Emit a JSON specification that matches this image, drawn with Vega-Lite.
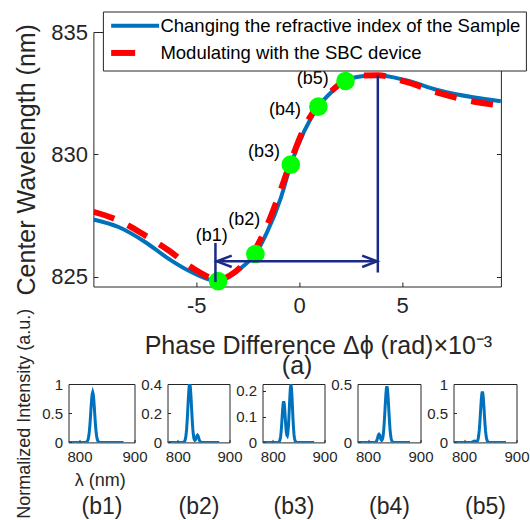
{
  "$schema": "https://vega.github.io/schema/vega-lite/v6.json",
  "padding": {"left": 13.5, "top": 10, "right": 0, "bottom": 0},
  "columns": 1,
  "align": "none",
  "bounds": "full",
  "spacing": {"row": -73, "column": 0},
  "resolve": {"scale": {"color": "independent"}},
  "config": {
    "font": "Liberation Sans",
    "view": {"stroke": "#262626", "strokeWidth": 1},
    "axis": {"domain": false, "grid": false, "labelColor": "#262626", "titleColor": "#262626", "tickColor": "#262626", "titleFontWeight": "normal", "labelFont": "Liberation Sans", "titleFont": "Liberation Sans", "labelOverlap": false, "labelFlush": false, "labelBound": false}
  },
  "datasets": {
    "curves": [
      {"x": -10.0, "y": 827.34, "s": "Changing the refractive index of the Sample"},
      {"x": -8.78, "y": 827.03, "s": "Changing the refractive index of the Sample"},
      {"x": -7.47, "y": 826.41, "s": "Changing the refractive index of the Sample"},
      {"x": -6.32, "y": 825.72, "s": "Changing the refractive index of the Sample"},
      {"x": -5.34, "y": 825.23, "s": "Changing the refractive index of the Sample"},
      {"x": -4.52, "y": 824.92, "s": "Changing the refractive index of the Sample"},
      {"x": -4.02, "y": 824.82, "s": "Changing the refractive index of the Sample"},
      {"x": -3.37, "y": 825.03, "s": "Changing the refractive index of the Sample"},
      {"x": -2.71, "y": 825.44, "s": "Changing the refractive index of the Sample"},
      {"x": -2.13, "y": 825.93, "s": "Changing the refractive index of the Sample"},
      {"x": -1.56, "y": 826.82, "s": "Changing the refractive index of the Sample"},
      {"x": -0.90, "y": 828.20, "s": "Changing the refractive index of the Sample"},
      {"x": -0.41, "y": 829.58, "s": "Changing the refractive index of the Sample"},
      {"x": 0.25, "y": 830.96, "s": "Changing the refractive index of the Sample"},
      {"x": 0.93, "y": 831.95, "s": "Changing the refractive index of the Sample"},
      {"x": 1.56, "y": 832.54, "s": "Changing the refractive index of the Sample"},
      {"x": 2.25, "y": 833.00, "s": "Changing the refractive index of the Sample"},
      {"x": 3.04, "y": 833.19, "s": "Changing the refractive index of the Sample"},
      {"x": 3.82, "y": 833.23, "s": "Changing the refractive index of the Sample"},
      {"x": 5.17, "y": 833.03, "s": "Changing the refractive index of the Sample"},
      {"x": 6.81, "y": 832.61, "s": "Changing the refractive index of the Sample"},
      {"x": 8.45, "y": 832.33, "s": "Changing the refractive index of the Sample"},
      {"x": 9.80, "y": 832.17, "s": "Changing the refractive index of the Sample"},
      {"x": -10.0, "y": 827.65, "s": "Modulating with the SBC device"},
      {"x": -8.78, "y": 827.30, "s": "Modulating with the SBC device"},
      {"x": -7.47, "y": 826.68, "s": "Modulating with the SBC device"},
      {"x": -6.32, "y": 826.06, "s": "Modulating with the SBC device"},
      {"x": -5.34, "y": 825.44, "s": "Modulating with the SBC device"},
      {"x": -4.52, "y": 825.03, "s": "Modulating with the SBC device"},
      {"x": -4.02, "y": 824.85, "s": "Modulating with the SBC device"},
      {"x": -3.37, "y": 825.05, "s": "Modulating with the SBC device"},
      {"x": -2.71, "y": 825.51, "s": "Modulating with the SBC device"},
      {"x": -2.13, "y": 826.13, "s": "Modulating with the SBC device"},
      {"x": -1.56, "y": 827.10, "s": "Modulating with the SBC device"},
      {"x": -0.90, "y": 828.54, "s": "Modulating with the SBC device"},
      {"x": -0.41, "y": 829.71, "s": "Modulating with the SBC device"},
      {"x": 0.25, "y": 831.09, "s": "Modulating with the SBC device"},
      {"x": 0.93, "y": 832.03, "s": "Modulating with the SBC device"},
      {"x": 1.56, "y": 832.58, "s": "Modulating with the SBC device"},
      {"x": 2.25, "y": 833.03, "s": "Modulating with the SBC device"},
      {"x": 3.04, "y": 833.22, "s": "Modulating with the SBC device"},
      {"x": 3.82, "y": 833.23, "s": "Modulating with the SBC device"},
      {"x": 5.17, "y": 832.97, "s": "Modulating with the SBC device"},
      {"x": 6.81, "y": 832.50, "s": "Modulating with the SBC device"},
      {"x": 8.45, "y": 832.16, "s": "Modulating with the SBC device"},
      {"x": 9.80, "y": 831.99, "s": "Modulating with the SBC device"}
    ],
    "pts": [
      {"x": -3.94, "y": 824.82},
      {"x": -2.13, "y": 825.93},
      {"x": -0.41, "y": 829.58},
      {"x": 0.93, "y": 831.95},
      {"x": 2.25, "y": 833.0}
    ],
    "labs": [
      {"x": -4.25, "y": 826.68, "t": "(b1)"},
      {"x": -2.67, "y": 827.30, "t": "(b2)"},
      {"x": -1.71, "y": 830.10, "t": "(b3)"},
      {"x": -0.69, "y": 831.83, "t": "(b4)"},
      {"x": 0.66, "y": 833.07, "t": "(b5)"}
    ],
    "ann": [
      {"x": -4.07, "x2": -4.07, "y": 824.78, "y2": 826.38},
      {"x": 3.82, "x2": 3.82, "y": 825.17, "y2": 833.24},
      {"x": -4.07, "x2": 3.82, "y": 825.63, "y2": 825.63}
    ],
    "arrows": [
      {"x": -4.0, "y": 825.63, "d": "left"},
      {"x": 3.78, "y": 825.63, "d": "right"}
    ],
    "s1": [
      {"w": 780, "v": 0}, {"w": 811, "v": 0}, {"w": 812, "v": 0.003}, {"w": 813, "v": 0.006}, {"w": 814, "v": 0.015}, {"w": 815, "v": 0.032}, {"w": 816, "v": 0.063}, {"w": 817, "v": 0.116}, {"w": 818, "v": 0.198}, {"w": 819, "v": 0.310}, {"w": 820, "v": 0.447}, {"w": 821, "v": 0.596}, {"w": 822, "v": 0.730}, {"w": 823, "v": 0.826}, {"w": 824, "v": 0.86}, {"w": 825, "v": 0.826}, {"w": 826, "v": 0.730}, {"w": 827, "v": 0.596}, {"w": 828, "v": 0.447}, {"w": 829, "v": 0.310}, {"w": 830, "v": 0.198}, {"w": 831, "v": 0.116}, {"w": 832, "v": 0.063}, {"w": 833, "v": 0.032}, {"w": 834, "v": 0.015}, {"w": 835, "v": 0.006}, {"w": 836, "v": 0.003}, {"w": 837, "v": 0}, {"w": 880, "v": 0}
    ],
    "s2": [
      {"w": 780, "v": 0}, {"w": 810, "v": 0}, {"w": 811, "v": 0.001}, {"w": 812, "v": 0.003}, {"w": 813, "v": 0.007}, {"w": 814, "v": 0.015}, {"w": 815, "v": 0.029}, {"w": 816, "v": 0.054}, {"w": 817, "v": 0.092}, {"w": 818, "v": 0.144}, {"w": 819, "v": 0.208}, {"w": 820, "v": 0.277}, {"w": 821, "v": 0.340}, {"w": 822, "v": 0.384}, {"w": 823, "v": 0.400}, {"w": 824, "v": 0.384}, {"w": 825, "v": 0.340}, {"w": 826, "v": 0.277}, {"w": 827, "v": 0.208}, {"w": 828, "v": 0.144}, {"w": 829, "v": 0.092}, {"w": 830, "v": 0.054}, {"w": 831, "v": 0.029}, {"w": 832, "v": 0.018}, {"w": 833, "v": 0.014}, {"w": 834, "v": 0.017}, {"w": 835, "v": 0.025}, {"w": 836, "v": 0.036}, {"w": 837, "v": 0.046}, {"w": 838, "v": 0.050}, {"w": 839, "v": 0.046}, {"w": 840, "v": 0.036}, {"w": 841, "v": 0.024}, {"w": 842, "v": 0.014}, {"w": 843, "v": 0.007}, {"w": 844, "v": 0.003}, {"w": 845, "v": 0}, {"w": 880, "v": 0}
    ],
    "s3": [
      {"w": 780, "v": 0}, {"w": 811, "v": 0}, {"w": 812, "v": 0.002}, {"w": 813, "v": 0.005}, {"w": 814, "v": 0.011}, {"w": 815, "v": 0.022}, {"w": 816, "v": 0.040}, {"w": 817, "v": 0.066}, {"w": 818, "v": 0.097}, {"w": 819, "v": 0.128}, {"w": 820, "v": 0.151}, {"w": 821, "v": 0.160}, {"w": 822, "v": 0.151}, {"w": 823, "v": 0.128}, {"w": 824, "v": 0.097}, {"w": 825, "v": 0.066}, {"w": 826, "v": 0.042}, {"w": 827, "v": 0.029}, {"w": 828, "v": 0.026}, {"w": 829, "v": 0.035}, {"w": 830, "v": 0.058}, {"w": 831, "v": 0.092}, {"w": 832, "v": 0.137}, {"w": 833, "v": 0.180}, {"w": 834, "v": 0.213}, {"w": 835, "v": 0.225}, {"w": 836, "v": 0.213}, {"w": 837, "v": 0.180}, {"w": 838, "v": 0.137}, {"w": 839, "v": 0.092}, {"w": 840, "v": 0.056}, {"w": 841, "v": 0.030}, {"w": 842, "v": 0.015}, {"w": 843, "v": 0.007}, {"w": 844, "v": 0.002}, {"w": 845, "v": 0}, {"w": 880, "v": 0}
    ],
    "s4": [
      {"w": 780, "v": 0}, {"w": 814, "v": 0}, {"w": 815, "v": 0.004}, {"w": 816, "v": 0.009}, {"w": 817, "v": 0.019}, {"w": 818, "v": 0.034}, {"w": 819, "v": 0.051}, {"w": 820, "v": 0.065}, {"w": 821, "v": 0.070}, {"w": 822, "v": 0.065}, {"w": 823, "v": 0.051}, {"w": 824, "v": 0.034}, {"w": 825, "v": 0.022}, {"w": 826, "v": 0.017}, {"w": 827, "v": 0.022}, {"w": 828, "v": 0.035}, {"w": 829, "v": 0.065}, {"w": 830, "v": 0.110}, {"w": 831, "v": 0.173}, {"w": 832, "v": 0.250}, {"w": 833, "v": 0.333}, {"w": 834, "v": 0.408}, {"w": 835, "v": 0.461}, {"w": 836, "v": 0.480}, {"w": 837, "v": 0.461}, {"w": 838, "v": 0.408}, {"w": 839, "v": 0.333}, {"w": 840, "v": 0.250}, {"w": 841, "v": 0.173}, {"w": 842, "v": 0.110}, {"w": 843, "v": 0.065}, {"w": 844, "v": 0.035}, {"w": 845, "v": 0.018}, {"w": 846, "v": 0.008}, {"w": 847, "v": 0.003}, {"w": 848, "v": 0}, {"w": 880, "v": 0}
    ],
    "s5": [
      {"w": 780, "v": 0}, {"w": 814, "v": 0}, {"w": 815, "v": 0.003}, {"w": 816, "v": 0.007}, {"w": 817, "v": 0.012}, {"w": 818, "v": 0.018}, {"w": 819, "v": 0.023}, {"w": 820, "v": 0.025}, {"w": 821, "v": 0.023}, {"w": 822, "v": 0.018}, {"w": 823, "v": 0.015}, {"w": 824, "v": 0.013}, {"w": 825, "v": 0.018}, {"w": 826, "v": 0.032}, {"w": 827, "v": 0.064}, {"w": 828, "v": 0.117}, {"w": 829, "v": 0.200}, {"w": 830, "v": 0.313}, {"w": 831, "v": 0.452}, {"w": 832, "v": 0.603}, {"w": 833, "v": 0.739}, {"w": 834, "v": 0.835}, {"w": 835, "v": 0.870}, {"w": 836, "v": 0.835}, {"w": 837, "v": 0.739}, {"w": 838, "v": 0.603}, {"w": 839, "v": 0.452}, {"w": 840, "v": 0.313}, {"w": 841, "v": 0.200}, {"w": 842, "v": 0.117}, {"w": 843, "v": 0.064}, {"w": 844, "v": 0.032}, {"w": 845, "v": 0.015}, {"w": 846, "v": 0.006}, {"w": 847, "v": 0.003}, {"w": 848, "v": 0}, {"w": 880, "v": 0}
    ]
  },
  "concat": [
    {
      "bounds": "flush",
      "spacing": 23.9,
      "resolve": {"scale": {"color": "independent"}},
      "hconcat": [
        {
          "width": 1, "height": 1,
          "view": {"stroke": null},
          "data": {"values": [{"a": 0}]},
          "mark": {"type": "point", "opacity": 0},
          "encoding": {}
        },
        {
          "width": 407.5,
          "height": 254.5,
          "title": {"text": "(a)", "orient": "bottom", "fontSize": 25, "fontWeight": "normal", "color": "#262626", "offset": -4, "anchor": "middle", "frame": "group"},
          "resolve": {"axis": {"y": "independent"}},
          "layer": [
            {
              "encoding": {
                "x": {"field": "x", "type": "quantitative", "scale": {"domain": [-10, 9.8], "nice": false, "zero": false},
                  "axis": {"values": [-5, 0, 5], "title": "Phase Difference Δϕ (rad)×10⁻³", "titleFontSize": 25, "titleX": 224.5, "titleY": 66.6, "titleAlign": "center", "titleBaseline": "alphabetic", "labelFontSize": 22, "labelPadding": 13, "tickSize": -4.5, "labelExpr": "'' + datum.value"}},
                "y": {"field": "y", "type": "quantitative", "scale": {"domain": [824.6, 835], "nice": false, "zero": false},
                  "axis": {"values": [825, 830, 835], "title": "Center Wavelength (nm)", "titleFontSize": 25, "titleX": -67.2, "titleY": 127.25, "titleBaseline": "middle", "titleAlign": "center", "labelFontSize": 22, "labelPadding": 10.4, "tickSize": -4.5, "labelExpr": "'' + datum.value"}}
              },
              "layer": [
                {
                  "data": {"name": "curves"},
                  "transform": [{"filter": "datum.s === 'Changing the refractive index of the Sample'"}],
                  "mark": {"type": "line", "strokeWidth": 4, "interpolate": "monotone", "clip": true},
                  "encoding": {
                    "color": {"field": "s", "type": "nominal",
                      "scale": {"domain": ["Changing the refractive index of the Sample", "Modulating with the SBC device"], "range": ["#0072BD", "#FF0000"]},
                      "legend": {"orient": "none", "legendX": 9.5, "legendY": -20.5, "title": null, "symbolType": "M-1,0H7", "symbolSize": 144, "symbolStrokeWidth": 4, "labelFontSize": 18.5, "labelColor": "#000000", "labelOffset": 34, "labelLimit": 700, "padding": 5, "rowPadding": 5.2, "strokeColor": "#262626", "fillColor": "#ffffff",
                        "encode": {"symbols": {"update": {"strokeDash": {"signal": "datum.value === 'Modulating with the SBC device' ? [24, 40] : [1, 0]"}, "strokeWidth": {"signal": "datum.value === 'Modulating with the SBC device' ? 6 : 4"}}}}}
                    }
                  }
                },
                {
                  "data": {"name": "curves"},
                  "transform": [{"filter": "datum.s === 'Modulating with the SBC device'"}],
                  "mark": {"type": "line", "strokeWidth": 6, "strokeDash": [22, 15], "interpolate": "monotone", "clip": true},
                  "encoding": {"color": {"field": "s", "type": "nominal"}}
                },
                {
                  "data": {"name": "pts"},
                  "mark": {"type": "point", "shape": "circle", "filled": true, "size": 346, "color": "#00FF00", "opacity": 1}
                },
                {
                  "data": {"name": "labs"},
                  "mark": {"type": "text", "fontSize": 18, "color": "#000000", "align": "center", "baseline": "middle"},
                  "encoding": {"text": {"field": "t", "type": "nominal"}}
                },
                {
                  "data": {"name": "ann"},
                  "mark": {"type": "rule", "color": "#1C2A87", "strokeWidth": 2.5},
                  "encoding": {"x2": {"field": "x2"}, "y2": {"field": "y2"}}
                },
                {
                  "data": {"name": "arrows"},
                  "mark": {"type": "point", "filled": false, "color": "#1C2A87", "strokeWidth": 2.5, "size": 130, "opacity": 1},
                  "encoding": {"shape": {"field": "d", "type": "nominal", "scale": {"domain": ["left", "right"], "range": ["M2.6,-1L0,0L2.6,1", "M-2.6,-1L0,0L-2.6,1"]}, "legend": null}}
                }
              ]
            },
            {
              "data": {"name": "pts"},
              "mark": {"type": "point", "opacity": 0},
              "encoding": {
                "x": {"field": "x", "type": "quantitative", "scale": {"domain": [-10, 9.8], "nice": false, "zero": false},
                  "axis": {"values": [-5, 0, 5], "title": "Phase Difference Δϕ (rad)×10⁻³", "titleFontSize": 25, "titleX": 224.5, "titleY": 66.6, "titleAlign": "center", "titleBaseline": "alphabetic", "labelFontSize": 22, "labelPadding": 13, "tickSize": -4.5, "labelExpr": "'' + datum.value"}},
                "y": {"field": "y", "type": "quantitative", "scale": {"domain": [824.6, 835], "nice": false, "zero": false},
                  "axis": {"orient": "right", "values": [825, 830, 835], "labels": false, "title": null, "tickSize": -4.5}}
              }
            }
          ]
        }
      ]
    },
    {
      "bounds": "flush",
      "spacing": 33,
      "hconcat": [
        {
          "width": 66, "height": 58.4,
          "data": {"name": "s1"},
          "resolve": {"axis": {"x": "independent"}},
          "layer": [
            {
              "mark": {"type": "line", "color": "#0072BD", "strokeWidth": 3, "clip": true},
              "encoding": {
                "x": {"field": "w", "type": "quantitative", "scale": {"domain": [780, 900], "nice": false, "zero": false},
                  "axis": {"values": [800, 900], "labelFontSize": 15, "labelPadding": 10, "tickSize": -3, "labelExpr": "'' + datum.value", "title": "(b1)", "titleFontSize": 23, "titleX": 33, "titleY": 71.3, "titleAlign": "center", "titleBaseline": "alphabetic"}},
                "y": {"field": "v", "type": "quantitative", "scale": {"domain": [0, 1], "nice": false},
                  "axis": {"values": [0, 0.5, 1], "labelFontSize": 15, "labelPadding": 9, "tickSize": -3, "labelExpr": "'' + datum.value", "title": "Normalized Intensity (a.u.)", "titleFontSize": 18, "titleX": -43.8, "titleY": 29.2, "titleAlign": "center", "titleBaseline": "middle"}}
              }
            },
            {
              "mark": {"type": "line", "opacity": 0},
              "encoding": {
                "x": {"field": "w", "type": "quantitative", "scale": {"domain": [780, 900], "nice": false, "zero": false},
                  "axis": {"orient": "bottom", "labels": false, "ticks": false, "title": "λ (nm)", "titleFontSize": 18, "titleX": 31.3, "titleY": 43, "titleAlign": "center", "titleBaseline": "alphabetic"}},
                "y": {"field": "v", "type": "quantitative", "scale": {"domain": [0, 1], "nice": false},
                  "axis": {"values": [0, 0.5, 1], "labelFontSize": 15, "labelPadding": 9, "tickSize": -3, "labelExpr": "'' + datum.value", "title": "Normalized Intensity (a.u.)", "titleFontSize": 18, "titleX": -43.8, "titleY": 29.2, "titleAlign": "center", "titleBaseline": "middle"}}
              }
            }
          ]
        },
        {
          "width": 62, "height": 58.4,
          "data": {"name": "s2"},
          "mark": {"type": "line", "color": "#0072BD", "strokeWidth": 3, "clip": true},
          "encoding": {
            "x": {"field": "w", "type": "quantitative", "scale": {"domain": [780, 900], "nice": false, "zero": false},
              "axis": {"values": [800, 900], "labelFontSize": 15, "labelPadding": 10, "tickSize": -3, "labelExpr": "'' + datum.value", "title": "(b2)", "titleFontSize": 23, "titleX": 31, "titleY": 71.3, "titleAlign": "center", "titleBaseline": "alphabetic"}},
            "y": {"field": "v", "type": "quantitative", "scale": {"domain": [0, 0.4], "nice": false},
              "axis": {"values": [0, 0.2, 0.4], "labelFontSize": 15, "labelPadding": 9, "tickSize": -3, "labelExpr": "'' + datum.value", "title": null}}
          }
        },
        {
          "width": 62, "height": 58.4,
          "data": {"name": "s3"},
          "mark": {"type": "line", "color": "#0072BD", "strokeWidth": 3, "clip": true},
          "encoding": {
            "x": {"field": "w", "type": "quantitative", "scale": {"domain": [780, 900], "nice": false, "zero": false},
              "axis": {"values": [800, 900], "labelFontSize": 15, "labelPadding": 10, "tickSize": -3, "labelExpr": "'' + datum.value", "title": "(b3)", "titleFontSize": 23, "titleX": 31, "titleY": 71.3, "titleAlign": "center", "titleBaseline": "alphabetic"}},
            "y": {"field": "v", "type": "quantitative", "scale": {"domain": [0, 0.227], "nice": false},
              "axis": {"values": [0, 0.1, 0.2], "labelFontSize": 15, "labelPadding": 9, "tickSize": -3, "labelExpr": "'' + datum.value", "title": null}}
          }
        },
        {
          "width": 63, "height": 58.4,
          "data": {"name": "s4"},
          "mark": {"type": "line", "color": "#0072BD", "strokeWidth": 3, "clip": true},
          "encoding": {
            "x": {"field": "w", "type": "quantitative", "scale": {"domain": [780, 900], "nice": false, "zero": false},
              "axis": {"values": [800, 900], "labelFontSize": 15, "labelPadding": 10, "tickSize": -3, "labelExpr": "'' + datum.value", "title": "(b4)", "titleFontSize": 23, "titleX": 31.5, "titleY": 71.3, "titleAlign": "center", "titleBaseline": "alphabetic"}},
            "y": {"field": "v", "type": "quantitative", "scale": {"domain": [0, 0.5], "nice": false},
              "axis": {"values": [0, 0.5], "labelFontSize": 15, "labelPadding": 9, "tickSize": -3, "labelExpr": "'' + datum.value", "title": null}}
          }
        },
        {
          "width": 63, "height": 58.4,
          "data": {"name": "s5"},
          "mark": {"type": "line", "color": "#0072BD", "strokeWidth": 3, "clip": true},
          "encoding": {
            "x": {"field": "w", "type": "quantitative", "scale": {"domain": [780, 900], "nice": false, "zero": false},
              "axis": {"values": [800, 900], "labelFontSize": 15, "labelPadding": 10, "tickSize": -3, "labelExpr": "'' + datum.value", "title": "(b5)", "titleFontSize": 23, "titleX": 31.5, "titleY": 71.3, "titleAlign": "center", "titleBaseline": "alphabetic"}},
            "y": {"field": "v", "type": "quantitative", "scale": {"domain": [0, 1], "nice": false},
              "axis": {"values": [0, 0.5, 1], "labelFontSize": 15, "labelPadding": 9, "tickSize": -3, "labelExpr": "'' + datum.value", "title": null}}
          }
        }
      ]
    }
  ]
}
